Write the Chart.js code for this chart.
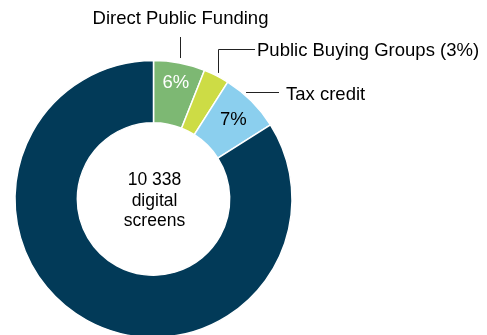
<!DOCTYPE html>
<html>
<head>
<meta charset="utf-8">
<script src="https://cdn.jsdelivr.net/npm/chart.js@4.4.0/dist/chart.umd.min.js"></script>
<style>
html, body { margin: 0; padding: 0; background: #fff; overflow: hidden; }
canvas { display: block; }
</style>
</head>
<body>
<canvas id="screensChart" width="487" height="340"></canvas>
<script>
// share of digital screens by funding scheme (%)
var labels = ['Direct Public Funding', 'Public Buying Groups', 'Tax credit', 'Other'];
var shares = [6, 3, 7, 84];
var colors = ['#7db873', '#cddc45', '#8bcfee', '#023a58'];
var centerLines = ['10 338', 'digital', 'screens'];

var FONT = '18.5px "Liberation Sans", Arial, sans-serif';

// callout labels, leader lines and the text in the hole
var callouts = {
    id: 'callouts',
    afterDatasetsDraw: function(chart) {
        var ctx = chart.ctx;
        var arcs = chart.getDatasetMeta(0).data;
        var cx = arcs[0].x, cy = arcs[0].y;
        var R = arcs[0].outerRadius;
        var mid = function(i) { return (arcs[i].startAngle + arcs[i].endAngle) / 2; };
        var pt = function(a, rad) { return { x: cx + rad * Math.cos(a), y: cy + rad * Math.sin(a) }; };

        ctx.save();
        ctx.strokeStyle = '#222';
        ctx.lineWidth = 1;
        ctx.fillStyle = '#000';
        ctx.font = FONT;

        // Direct Public Funding - straight up
        var p = pt(mid(0), R + 5);
        var x = Math.round(p.x) + 0.5;
        ctx.beginPath();
        ctx.moveTo(x, p.y);
        ctx.lineTo(x, 37);
        ctx.stroke();
        ctx.textAlign = 'center';
        ctx.textBaseline = 'alphabetic';
        ctx.fillText(labels[0], x, 24);

        // Public Buying Groups - up, then right
        p = pt(mid(1), R + 3);
        x = Math.round(p.x) + 0.5;
        ctx.beginPath();
        ctx.moveTo(x, p.y);
        ctx.lineTo(x, 49.5);
        ctx.lineTo(255, 49.5);
        ctx.stroke();
        ctx.textAlign = 'left';
        ctx.fillText(labels[1] + ' (' + shares[1] + '%)', 257, 56);

        // Tax credit - horizontal from the ring edge
        var y = 92.5;
        var xEdge = cx + Math.sqrt(R * R - (cy - y) * (cy - y)) + 4;
        ctx.beginPath();
        ctx.moveTo(xEdge, y);
        ctx.lineTo(279, y);
        ctx.stroke();
        ctx.fillText(labels[2], 286, 100);

        // values inside the slices
        ctx.textAlign = 'center';
        ctx.textBaseline = 'middle';
        p = pt(mid(0), 119);
        ctx.fillStyle = '#fff';
        ctx.fillText(shares[0] + '%', p.x, p.y + 1);
        p = pt(mid(2), 113);
        ctx.fillStyle = '#000';
        ctx.fillText(shares[2] + '%', p.x, p.y + 1);

        // centre text
        ctx.font = '17.5px "Liberation Sans", Arial, sans-serif';
        ctx.textBaseline = 'alphabetic';
        ctx.fillText(centerLines[0], cx + 1, cy - 14);
        ctx.fillText(centerLines[1], cx + 1, cy + 6.5);
        ctx.fillText(centerLines[2], cx + 1, cy + 27);
        ctx.restore();
    }
};

var ctx = document.getElementById('screensChart').getContext('2d');
var chart = new Chart(ctx, {
    type: 'doughnut',
    data: {
        labels: labels,
        datasets: [{
            data: shares,
            backgroundColor: colors,
            borderColor: '#fff',
            borderWidth: 1.5
        }]
    },
    options: {
        responsive: false,
        animation: false,
        radius: 138.5,
        cutout: '55%',
        layout: { padding: { left: 15, right: 195, top: 60, bottom: 2 } },
        plugins: {
            legend: { display: false },
            tooltip: { enabled: false }
        }
    },
    plugins: [callouts]
});
</script>
</body>
</html>
